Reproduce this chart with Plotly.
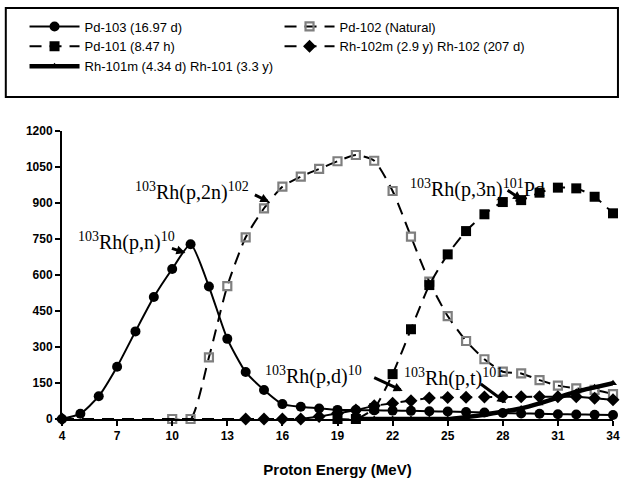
import plotly.graph_objects as go

# ---- data ----
pd103_x = list(range(4, 35))
pd103_y = [0, 22, 95, 218, 365, 508, 625, 728, 552, 334, 196, 121, 62, 51, 44, 38, 37, 36, 35, 34, 32, 31, 29, 27, 25, 23, 22, 20, 19, 18, 17]

pd102_x = list(range(10, 35))
pd102_y = [0, 0, 257, 554, 757, 878, 968, 1010, 1042, 1074, 1100, 1076, 950, 760, 572, 429, 325, 249, 197, 190, 162, 139, 128, 121, 104]

pd101_x = list(range(19, 35))
pd101_y = [0, 0, 45, 187, 374, 558, 686, 783, 853, 904, 912, 943, 964, 961, 926, 857]

rh102_x = [4] + list(range(14, 35))
rh102_y = [0, 0, 0, 0, 0, 10, 24, 37, 55, 66, 76, 88, 90, 91, 92, 93, 93, 93, 93, 93, 86, 80]

rh101_x = list(range(20, 35))
rh101_y = [0, 0, 0, 0, 0, 0, 8, 18, 31, 44, 65, 89, 114, 132, 149]

names = ["Pd-103 (16.97 d)", "Pd-102 (Natural)", "Pd-101 (8.47 h)",
         "Rh-102m (2.9 y) Rh-102 (207 d)", "Rh-101m (4.34 d) Rh-101 (3.3 y)"]

x_ticks = list(range(4, 35, 3))
y_ticks = list(range(0, 1201, 150))

fig = go.Figure()
fig.add_trace(go.Scatter(x=pd103_x, y=pd103_y, name=names[0], mode="lines+markers",
                         line=dict(color="black", width=2, shape="spline", smoothing=0.6),
                         marker=dict(symbol="circle", size=10, color="black"), cliponaxis=False))
fig.add_trace(go.Scatter(x=pd102_x, y=pd102_y, name=names[1], mode="lines+markers",
                         line=dict(color="black", width=2, dash="12px,8px", shape="spline", smoothing=0.6),
                         marker=dict(symbol="square-open", size=8, color="#7f7f7f", line=dict(width=2.2, color="#7f7f7f")),
                         cliponaxis=False))
fig.add_trace(go.Scatter(x=pd101_x, y=pd101_y, name=names[2], mode="lines+markers",
                         line=dict(color="black", width=2, dash="12px,8px", shape="spline", smoothing=0.6),
                         marker=dict(symbol="square", size=10, color="black"), cliponaxis=False))
fig.add_trace(go.Scatter(x=rh102_x, y=rh102_y, name=names[3], mode="lines+markers",
                         line=dict(color="black", width=2, dash="12px,8px"),
                         marker=dict(symbol="diamond", size=10, color="black"), cliponaxis=False))
fig.add_trace(go.Scatter(x=rh101_x, y=rh101_y, name=names[4], mode="lines+markers",
                         line=dict(color="black", width=4.5, shape="spline", smoothing=0.6),
                         marker=dict(symbol="triangle-up", size=7, color="black"), cliponaxis=False))

serif = "Liberation Serif, Times New Roman, serif"
labels = [
    ("<sup>103</sup>Rh(p,n)<sup>10</sup>", 7.5, 740),
    ("<sup>103</sup>Rh(p,2n)<sup>102</sup>", 11.1, 946),
    ("<sup>103</sup>Rh(p,3n)<sup>101</sup>Pd", 26.6, 962),
    ("<sup>103</sup>Rh(p,d)<sup>10</sup>", 17.7, 183),
    ("<sup>103</sup>Rh(p,t)<sup>101</sup>", 25.3, 171),
]
annotations = []
for t, x, y in labels:
    annotations.append(dict(text=t, x=x, y=y, xref="x", yref="y", showarrow=False,
                            font=dict(family=serif, size=20, color="black")))
arrows = [(10.72, 692, -15, -5), (15.29, 904, -16, -8), (29.05, 912, -16, -11),
          (22.55, 117, -30, -14), (28.19, 67, -27, -20)]
for x, y, ax, ay in arrows:
    annotations.append(dict(text="", x=x, y=y, xref="x", yref="y", ax=ax, ay=ay,
                            showarrow=True, arrowhead=2, arrowsize=0.6, arrowwidth=3,
                            arrowcolor="black"))

fig.update_layout(
    width=631, height=493,
    margin=dict(l=62, r=11, t=131, b=74),
    paper_bgcolor="white", plot_bgcolor="white",
    font=dict(family="Arial, Liberation Sans, sans-serif", color="black", size=11),
    showlegend=True,
    legend=dict(orientation="h", x=-0.068, y=1.415, xanchor="left", yanchor="top",
                entrywidth=190, entrywidthmode="pixels", itemwidth=50,
                font=dict(size=13, family="Arial, Liberation Sans, sans-serif"),
                bgcolor="rgba(0,0,0,0)", tracegroupgap=0),
    shapes=[dict(type="rect", xref="paper", yref="paper", x0=-0.102, x1=1.009,
                 y0=1.118, y1=1.427, line=dict(color="black", width=2))],
    annotations=annotations,
    xaxis=dict(range=[4, 34], tickvals=x_ticks, ticktext=[str(v) for v in x_ticks],
               showgrid=False, zeroline=False, showline=True, linecolor="black", linewidth=2,
               ticks="outside", ticklen=5, tickwidth=2, tickcolor="black",
               tickfont=dict(size=12, family="Arial, Liberation Sans, sans-serif", weight="bold"),
               title=dict(text="<b>Proton Energy (MeV)</b>", font=dict(size=15), standoff=22)),
    yaxis=dict(range=[0, 1200], tickvals=y_ticks, ticktext=[str(v) for v in y_ticks],
               showgrid=False, zeroline=False, showline=True, linecolor="black", linewidth=2,
               ticks="outside", ticklen=5, tickwidth=2, tickcolor="black",
               tickfont=dict(size=12, family="Arial, Liberation Sans, sans-serif", weight="bold")),
)

fig.write_html("out.html")
